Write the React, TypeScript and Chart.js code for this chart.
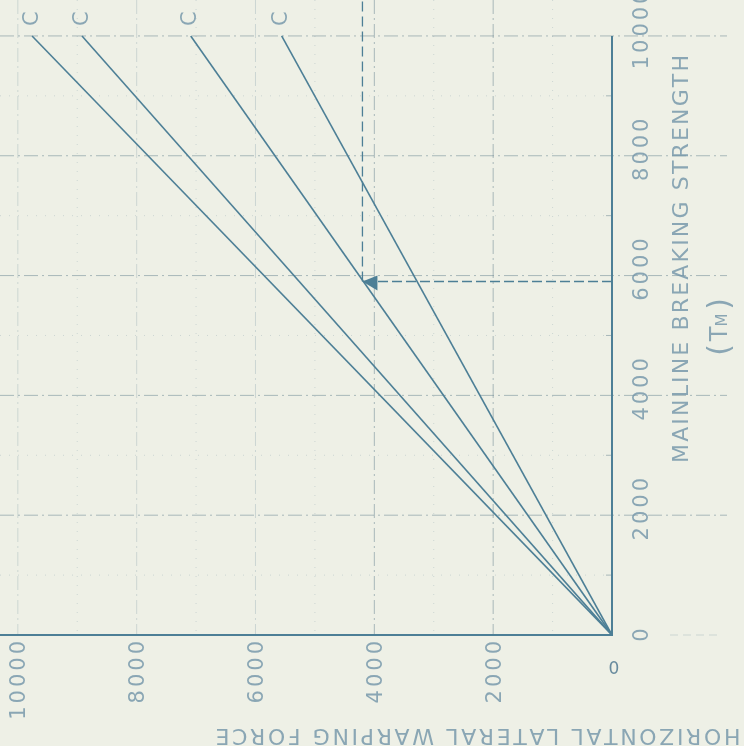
import React, { useEffect, useRef } from "react";
import { Chart, registerables } from "chart.js";

Chart.register(...registerables);

// ---------- data ----------
const curveLabels = ["C =", "C =", "C =", "C ="];
const curveEndLateral = [9760, 8920, 7090, 5560];
const curveEndMainline = [10000, 10000, 10000, 10000];
const exampleMainline = 5900;
const exampleLateral = 4200;
const mainlineTicks = [0, 2000, 4000, 6000, 8000, 10000];
const mainlineTickLabels = ["0", "2000", "4000", "6000", "8000", "10000"];
const lateralTicks = [2000, 4000, 6000, 8000, 10000];
const lateralTickLabels = ["2000", "4000", "6000", "8000", "10000"];
const minorTicks = [1000, 3000, 5000, 7000, 9000];
const mainlineTitle = "MAINLINE BREAKING STRENGTH";
const mainlineSymbol = "T";
const mainlineSub = "M";
const lateralTitle = "HORIZONTAL LATERAL WARPING FORCE";
const originLabel = "0";
const lateralMax = 10300;
const mainlineMax = 10600;

// ---------- style ----------
const BG = "#eef0e6";
const INK = "#4d7f96";
const GRID = "rgba(100,128,142,0.5)";
const GRID_LIGHT = "rgba(120,148,162,0.28)";
const TEXT = "rgba(112,148,168,0.8)";
const FONT = '"DejaVu Sans", sans-serif';

function drawSpaced(
  ctx: CanvasRenderingContext2D,
  text: string,
  x: number,
  y: number,
  angle: number,
  size: number,
  opts: { length?: number; spacing?: number; align?: string; vcenter?: boolean; color?: string }
) {
  ctx.save();
  ctx.font = `${size}px ${FONT}`;
  ctx.fillStyle = opts.color || TEXT;
  ctx.textBaseline = "alphabetic";
  ctx.textAlign = "left";
  const chars = text.split("");
  const widths = chars.map((c) => ctx.measureText(c).width);
  const sum = widths.reduce((a, b) => a + b, 0);
  let sp = opts.spacing ?? 0;
  if (opts.length !== undefined && chars.length > 1) sp = (opts.length - sum) / (chars.length - 1);
  const total = sum + sp * (chars.length - 1);
  ctx.translate(x, y);
  ctx.rotate(angle);
  let cx = opts.align === "center" ? -total / 2 : opts.align === "right" ? -total : 0;
  const cy = opts.vcenter ? size * 0.36 : 0;
  chars.forEach((c, i) => {
    ctx.fillText(c, cx, cy);
    cx += widths[i] + sp;
  });
  ctx.restore();
}

const decorPlugin = {
  id: "decor",
  beforeDraw(chart: any) {
    const { ctx, width, height } = chart;
    ctx.save();
    ctx.fillStyle = BG;
    ctx.fillRect(0, 0, width, height);
    ctx.restore();
  },
  beforeDatasetsDraw(chart: any) {
    const { ctx, scales } = chart;
    const xs = scales.x;
    const ys = scales.y;
    const x0 = xs.getPixelForValue(0);
    const y0 = ys.getPixelForValue(0);
    ctx.save();
    // minor dotted grid
    ctx.strokeStyle = GRID_LIGHT;
    ctx.lineWidth = 1;
    ctx.setLineDash([1, 8]);
    minorTicks.forEach((v) => {
      const py = ys.getPixelForValue(v);
      ctx.beginPath();
      ctx.moveTo(0, py);
      ctx.lineTo(x0, py);
      ctx.stroke();
      const px = xs.getPixelForValue(v);
      ctx.beginPath();
      ctx.moveTo(px, 0);
      ctx.lineTo(px, y0);
      ctx.stroke();
    });
    // vertical grid (lateral)
    ctx.setLineDash([14, 4, 2, 4]);
    lateralTicks.forEach((v, i) => {
      const px = xs.getPixelForValue(v);
      ctx.strokeStyle = i < 2 ? GRID : GRID_LIGHT;
      ctx.beginPath();
      ctx.moveTo(px, 0);
      ctx.lineTo(px, y0);
      ctx.stroke();
    });
    // horizontal grid (mainline)
    ctx.strokeStyle = GRID;
    mainlineTicks.forEach((v) => {
      if (v === 0) return;
      const py = ys.getPixelForValue(v);
      ctx.beginPath();
      ctx.moveTo(0, py);
      ctx.lineTo(x0 + 115, py);
      ctx.stroke();
    });
    // faint continuation of zero line
    ctx.strokeStyle = GRID_LIGHT;
    ctx.setLineDash([8, 5]);
    ctx.beginPath();
    ctx.moveTo(x0 + 58, y0);
    ctx.lineTo(x0 + 108, y0);
    ctx.stroke();
    // minor ticks on vertical axis
    ctx.setLineDash([]);
    ctx.strokeStyle = GRID;
    minorTicks.forEach((v) => {
      const py = ys.getPixelForValue(v);
      ctx.beginPath();
      ctx.moveTo(x0 - 6, py);
      ctx.lineTo(x0, py);
      ctx.stroke();
    });
    // axes
    ctx.strokeStyle = INK;
    ctx.lineWidth = 2;
    ctx.beginPath();
    ctx.moveTo(x0, ys.getPixelForValue(10000));
    ctx.lineTo(x0, y0);
    ctx.lineTo(0, y0);
    ctx.stroke();
    ctx.restore();
  },
  afterDatasetsDraw(chart: any) {
    const { ctx, scales } = chart;
    const xs = scales.x;
    const ys = scales.y;
    // arrow head at example point
    const ax = xs.getPixelForValue(exampleLateral);
    const ay = ys.getPixelForValue(exampleMainline);
    ctx.save();
    ctx.fillStyle = INK;
    ctx.beginPath();
    ctx.moveTo(ax, ay);
    ctx.lineTo(ax + 15, ay - 6);
    ctx.lineTo(ax + 15, ay + 9);
    ctx.closePath();
    ctx.fill();
    ctx.restore();
  },
  afterDraw(chart: any) {
    const { ctx, scales } = chart;
    const xs = scales.x;
    const ys = scales.y;
    const x0 = xs.getPixelForValue(0);
    const y0 = ys.getPixelForValue(0);
    const up = -Math.PI / 2;
    // mainline tick labels
    mainlineTicks.forEach((v, i) => {
      const txt = mainlineTickLabels[i];
      const py = ys.getPixelForValue(v) - (v === 0 ? 0 : 6);
      drawSpaced(ctx, txt, x0 + 28, py, up, 21, {
        spacing: 3,
        align: "center",
        vcenter: true,
      });
    });
    // lateral tick labels
    lateralTicks.forEach((v, i) => {
      const px = xs.getPixelForValue(v);
      drawSpaced(ctx, lateralTickLabels[i], px, y0 + 6, up, 21, {
        spacing: 3,
        align: "right",
        vcenter: true,
      });
    });
    // origin label
    drawSpaced(ctx, originLabel, x0 + 2, y0 + 39, 0, 17, { align: "center", color: "rgba(90,128,150,0.9)" });
    // mainline title
    drawSpaced(ctx, mainlineTitle, x0 + 68, y0 - 376, up, 22, {
      length: 408,
      align: "center",
      vcenter: true,
    });
    // (T_M)
    const tx = x0 + 106;
    const ty = y0 - 307;
    drawSpaced(ctx, "(", tx, ty + 22, up, 30, { align: "center", vcenter: true });
    drawSpaced(ctx, mainlineSymbol, tx, ty + 6, up, 24, { align: "center", vcenter: true });
    drawSpaced(ctx, mainlineSub, tx + 4, ty - 8, up, 15, { align: "center", vcenter: true });
    drawSpaced(ctx, ")", tx, ty - 24, up, 30, { align: "center", vcenter: true });
    // lateral title (upside down)
    drawSpaced(ctx, lateralTitle, 478, y0 + 94, Math.PI, 22, {
      length: 525,
      align: "center",
    });
    // curve labels
    curveEndLateral.forEach((v, i) => {
      const px = xs.getPixelForValue(v);
      const py = ys.getPixelForValue(curveEndMainline[i]);
      drawSpaced(ctx, curveLabels[i], px - 2, py - 10, up, 21, {
        spacing: 3,
        align: "left",
        vcenter: true,
      });
    });
  },
};

export default function App() {
  const ref = useRef<HTMLCanvasElement | null>(null);
  useEffect(() => {
    document.body.style.margin = "0";
    const canvas = ref.current;
    if (!canvas) return;
    const curveSets = curveEndLateral.map((v, i) => ({
      label: curveLabels[i] + i,
      data: [
        { x: 0, y: 0 },
        { x: v, y: curveEndMainline[i] },
      ],
      showLine: true,
      borderColor: INK,
      borderWidth: 1.6,
      pointRadius: 0,
    }));
    const exampleSets = [
      {
        label: "example-h",
        data: [
          { x: 0, y: exampleMainline },
          { x: exampleLateral, y: exampleMainline },
        ],
        showLine: true,
        borderColor: INK,
        borderWidth: 1.4,
        borderDash: [10, 4],
        pointRadius: 0,
      },
      {
        label: "example-v",
        data: [
          { x: exampleLateral, y: exampleMainline },
          { x: exampleLateral, y: mainlineMax },
        ],
        showLine: true,
        borderColor: INK,
        borderWidth: 1.3,
        borderDash: [10, 5],
        pointRadius: 0,
      },
    ];
    const chart = new Chart(canvas, {
      type: "scatter",
      data: { datasets: [...curveSets, ...exampleSets] as any },
      options: {
        animation: false,
        responsive: false,
        devicePixelRatio: 1,
        layout: { padding: { left: 0, top: 0, right: 132, bottom: 111 } },
        plugins: { legend: { display: false }, tooltip: { enabled: false } },
        scales: {
          x: { type: "linear", reverse: true, min: 0, max: lateralMax, display: false },
          y: { type: "linear", min: 0, max: mainlineMax, display: false },
        },
      },
      plugins: [decorPlugin],
    });
    return () => chart.destroy();
  }, []);
  return <canvas ref={ref} width={744} height={746} style={{ display: "block" }} />;
}
